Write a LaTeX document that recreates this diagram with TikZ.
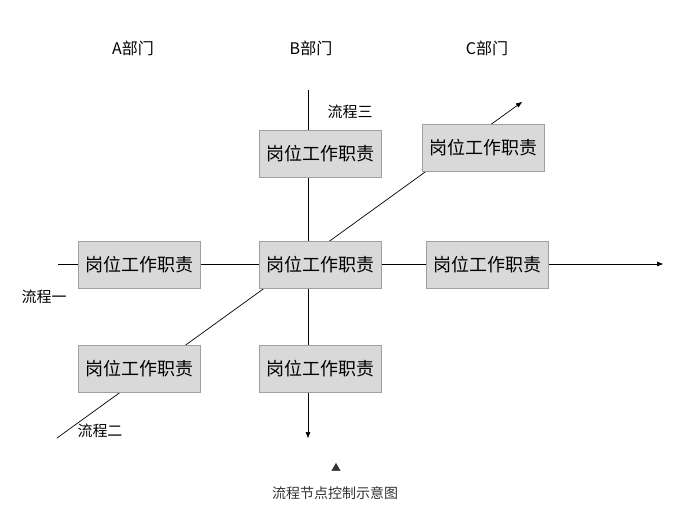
\documentclass[tikz,border=0pt]{standalone}
\usepackage{fontspec}
\setmainfont{Noto Sans CJK SC}
\usetikzlibrary{arrows.meta}
\definecolor{boxfill}{HTML}{D9D9D9}
\definecolor{boxedge}{HTML}{A0A0A0}
\definecolor{captext}{HTML}{333333}
\begin{document}
\begin{tikzpicture}[x=1pt,y=-1pt,
  duty/.style={draw=boxedge, fill=boxfill, line width=0.8pt, minimum width=122pt, minimum height=47pt, inner sep=0pt, font=\fontsize{18}{20}\selectfont},
  flow/.style={draw=black, line width=0.7pt},
  arr/.style={-{Triangle[length=6pt,width=4.5pt]}},
  lbl/.style={inner sep=0pt, font=\fontsize{15}{17}\selectfont},
  dept/.style={inner sep=0pt, font=\fontsize{16}{18}\selectfont},
]
\useasboundingbox (0,0) rectangle (681,514);
% flow lines (drawn first, boxes lie on top)
\coordinate (h0) at (58,264);
\coordinate (h1) at (663,264);
\coordinate (v0) at (308,90);
\coordinate (v1) at (308,438);
\coordinate (d0) at (57,438);
\coordinate (d1) at (522,102);
\draw[flow,arr] (h0) -- (h1);
\draw[flow,arr] (v0) -- (v1);
\draw[flow,arr] (d0) -- (d1);
% boxes
\node[duty] (a1) at (139,264.5) {岗位工作职责};
\node[duty] (bc) at (320,264.5) {岗位工作职责};
\node[duty] (c1) at (487.5,264.5) {岗位工作职责};
\node[duty] (bt) at (320,154) {岗位工作职责};
\node[duty] (ct) at (483.5,147.5) {岗位工作职责};
\node[duty] (a2) at (139,368.5) {岗位工作职责};
\node[duty] (bb) at (320,368.5) {岗位工作职责};
% labels
\node[dept] (da) at (133,48) {A部门};
\node[dept] (db) at (311,48) {B部门};
\node[dept] (dc) at (487,48) {C部门};
\node[lbl] (f3) at (350,112) {流程三};
\node[lbl] (f1) at (44,297) {流程一};
\node[lbl] (f2) at (100,431) {流程二};
\node[inner sep=0pt, text=captext, font=\fontsize{10}{12}\selectfont] (tri) at (336,467) {▲};
\node[inner sep=0pt, text=captext, font=\fontsize{14}{16}\selectfont] (cap) at (335,493) {流程节点控制示意图};
\end{tikzpicture}
\end{document}
